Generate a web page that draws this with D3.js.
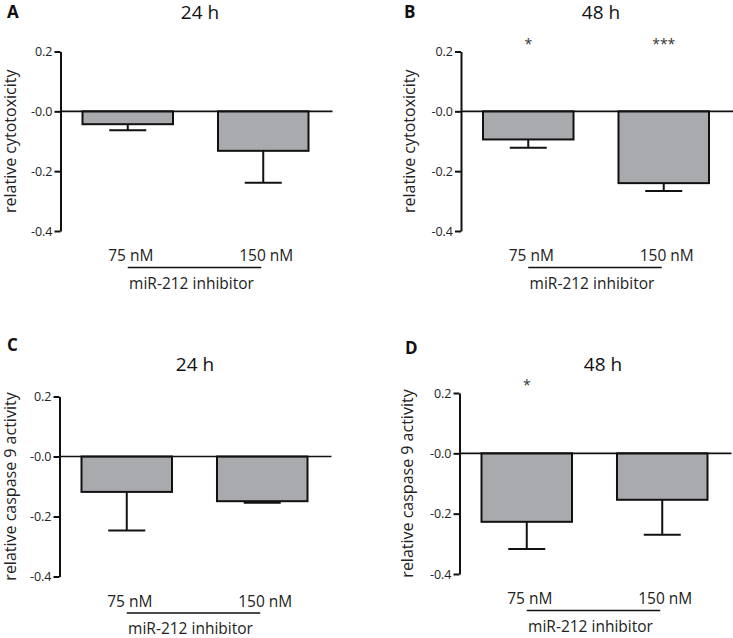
<!DOCTYPE html>
<html>
<head>
<meta charset="utf-8">
<script src="https://cdn.jsdelivr.net/npm/d3@7"></script>
<style>
  html, body { margin: 0; padding: 0; background: #fff; }
  svg { display: block; font-family: "Open Sans", sans-serif; }
</style>
</head>
<body>
<svg id="chart" width="733" height="638"></svg>
<script>
// ---- data ----
const categories = ["75 nM", "150 nM"];
const groupLabel = "miR-212 inhibitor";
const yTickValues = [0.2, 0.0, -0.2, -0.4];
const yTickLabels = ["0.2", "-0.0", "-0.2", "-0.4"];

const cytotox24 = [-0.043, -0.132];
const cytotox24Err = [0.020, 0.107];
const cytotox48 = [-0.094, -0.240];
const cytotox48Err = [0.028, 0.026];
const caspase24 = [-0.118, -0.149];
const caspase24Err = [0.129, 0.005];
const caspase48 = [-0.227, -0.154];
const caspase48Err = [0.090, 0.116];

const cytotox48Sig = ["*", "***"];
const caspase48Sig = ["*", ""];
const noSig = ["", ""];

const panelLetters = ["A", "B", "C", "D"];
const panelTitles = ["24 h", "48 h", "24 h", "48 h"];
const yLabels = ["relative cytotoxicity", "relative cytotoxicity",
                 "relative caspase 9 activity", "relative caspase 9 activity"];

// ---- layout (positions only) ----
const layout = [
  { ax: 60.5,  yTop: 51.5,  yBot: 231,   letter: [7, 18],    titleX: 200, titleY: 19,  ylabX: 16,  values: cytotox24, errs: cytotox24Err, sig: noSig },
  { ax: 461,   yTop: 51.5,  yBot: 231,   letter: [404, 18],  titleX: 601, titleY: 19,  ylabX: 415, values: cytotox48, errs: cytotox48Err, sig: cytotox48Sig },
  { ax: 59.5,  yTop: 396.5, yBot: 576.5, letter: [7, 351],   titleX: 195, titleY: 371, ylabX: 16,  values: caspase24, errs: caspase24Err, sig: noSig },
  { ax: 459.5, yTop: 393,   yBot: 574,   letter: [405, 354], titleX: 603, titleY: 371, ylabX: 413, values: caspase48, errs: caspase48Err, sig: caspase48Sig }
];

const svg = d3.select("#chart");
const barFill = "#a9aaad";

layout.forEach((p, i) => {
  const g = svg.append("g");
  const y = d3.scaleLinear().domain([0.2, -0.4]).range([p.yTop, p.yBot]);
  const x = d3.scaleBand().domain(categories)
    .range([p.ax + 22, p.ax + 22 + 226]).paddingInner(0.332).paddingOuter(0);
  const bw = x.bandwidth();
  const cx = c => x(c) + bw / 2;

  // bars
  g.selectAll("rect.bar").data(categories).join("rect")
    .attr("x", c => x(c))
    .attr("y", y(0))
    .attr("width", bw)
    .attr("height", (c, k) => y(p.values[k]) - y(0))
    .attr("fill", barFill)
    .attr("stroke", "#111")
    .attr("stroke-width", 2);

  // error bars
  categories.forEach((c, k) => {
    const v = p.values[k], e = p.errs[k];
    g.append("line")
      .attr("x1", cx(c)).attr("x2", cx(c))
      .attr("y1", y(v)).attr("y2", y(v - e))
      .attr("stroke", "#111").attr("stroke-width", 2);
    g.append("line")
      .attr("x1", cx(c) - 18.5).attr("x2", cx(c) + 18.5)
      .attr("y1", y(v - e)).attr("y2", y(v - e))
      .attr("stroke", "#111").attr("stroke-width", 2);
  });

  // zero line
  g.append("line")
    .attr("x1", p.ax).attr("x2", p.ax + 272)
    .attr("y1", y(0)).attr("y2", y(0))
    .attr("stroke", "#111").attr("stroke-width", 1.6);

  // y axis
  const axis = d3.axisLeft(y)
    .tickValues(yTickValues)
    .tickFormat((d, k) => yTickLabels[k])
    .tickSize(6).tickSizeOuter(0).tickPadding(2);
  const ag = g.append("g").attr("transform", `translate(${p.ax},0)`).call(axis);
  ag.select(".domain").attr("stroke", "#111").attr("stroke-width", 2);
  ag.selectAll(".tick line").attr("stroke", "#111").attr("stroke-width", 2);
  ag.selectAll(".tick text").attr("fill", "#222")
    .style("font-size", "12.5px").style("font-family", "'Open Sans', sans-serif");

  // category labels
  g.selectAll("text.cat").data(categories).join("text")
    .attr("x", c => cx(c) + 3)
    .attr("y", y(-0.4) + 30)
    .attr("text-anchor", "middle")
    .style("font-size", "15.5px")
    .attr("fill", "#222")
    .text(c => c);

  // group underline
  g.append("line")
    .attr("x1", cx(categories[0])).attr("x2", cx(categories[1]) - 2)
    .attr("y1", y(-0.4) + 36.5).attr("y2", y(-0.4) + 36.5)
    .attr("stroke", "#111").attr("stroke-width", 1.4);

  g.append("text")
    .attr("x", (cx(categories[0]) + cx(categories[1])) / 2 - 4)
    .attr("y", Math.min(y(-0.4) + 58, 633.5))
    .attr("text-anchor", "middle")
    .style("font-size", "15.5px")
    .attr("fill", "#222")
    .text(groupLabel);

  // significance
  categories.forEach((c, k) => {
    if (!p.sig[k]) return;
    g.append("text")
      .attr("x", cx(c))
      .attr("y", y(0.2) - 3)
      .attr("text-anchor", "middle")
      .style("font-size", "14px")
      .attr("fill", "#333")
      .text(p.sig[k]);
  });

  // y label
  g.append("text")
    .attr("transform", `translate(${p.ylabX},${(p.yTop + p.yBot) / 2}) rotate(-90)`)
    .attr("text-anchor", "middle")
    .style("font-size", "16px")
    .attr("fill", "#222")
    .text(yLabels[i]);

  // title
  g.append("text")
    .attr("x", p.titleX).attr("y", p.titleY)
    .attr("text-anchor", "middle")
    .style("font-size", "19px")
    .attr("fill", "#111")
    .text(panelTitles[i]);

  // letter
  g.append("text")
    .attr("x", p.letter[0]).attr("y", p.letter[1])
    .style("font-size", "17px").style("font-weight", "bold")
    .attr("fill", "#111")
    .text(panelLetters[i]);
});
</script>
</body>
</html>
